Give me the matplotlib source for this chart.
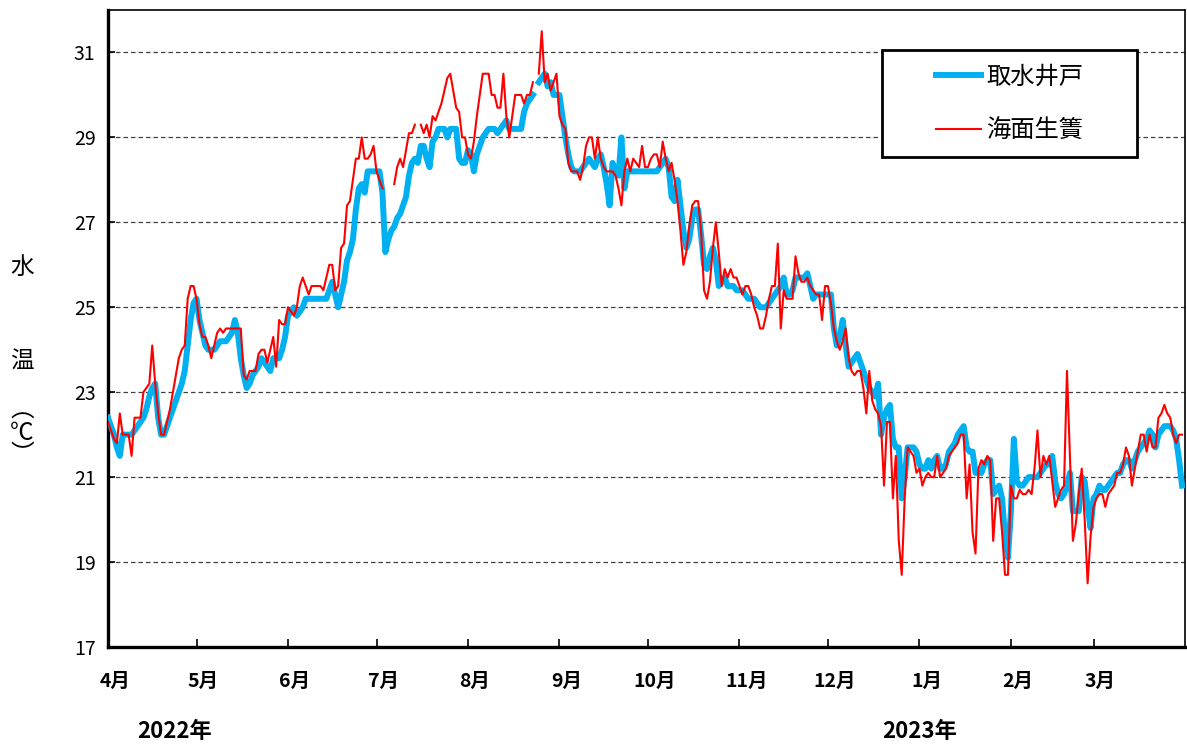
import numpy as np
import pandas as pd
import matplotlib
matplotlib.use("Agg")
import matplotlib.pyplot as plt
import matplotlib.transforms as mtransforms
from matplotlib.patches import Rectangle

plt.rcParams['font.family'] = ['Noto Sans CJK JP', 'DejaVu Sans']

nan = np.nan

# 取水井戸 (日平均水温, 2022年4月 - 2023年3月)
well_apr = [22.4, 22.2, 22.0, 21.7, 21.5, 22.0, 22.0, 22.0, 22.0, 22.1, 22.2, 22.3, 22.4, 22.6, 22.9,
            23.1, 23.2, 22.4, 22.0, 22.0, 22.2, 22.4, 22.6, 22.8, 23.0, 23.2, 23.5, 24.1, 24.7, 25.1]
well_may = [25.2, 24.7, 24.4, 24.1, 24.0, 24.0, 24.0, 24.1, 24.2, 24.2, 24.2, 24.3, 24.4, 24.7, 24.4,
            23.8, 23.4, 23.1, 23.2, 23.4, 23.5, 23.6, 23.8, 23.7, 23.6, 23.5, 23.8, 23.8, 23.8, 24.0, 24.3]
well_jun = [24.8, 24.9, 25.0, 24.8, 24.9, 25.0, 25.2, 25.2, 25.2, 25.2, 25.2, 25.2, 25.2, 25.2, 25.4,
            25.6, 25.3, 25.0, 25.3, 25.6, 26.1, 26.3, 26.6, 27.3, 27.8, 27.9, 27.7, 28.2, 28.2, 28.2]
well_jul = [28.2, 28.2, 27.7, 26.3, 26.6, 26.8, 26.9, 27.1, 27.2, 27.4, 27.6, 28.1, 28.4, 28.5, 28.4,
            28.8, 28.8, 28.5, 28.3, 28.9, 29.0, 29.2, 29.2, 29.2, 29.0, 29.2, 29.2, 29.2, 28.5, 28.4, 28.4]
well_aug = [28.7, 28.6, 28.2, 28.6, 28.8, 29.0, 29.1, 29.2, 29.2, 29.2, 29.1, 29.2, 29.3, 29.4, 29.2,
            29.2, 29.2, 29.2, 29.2, 29.6, 29.8, 29.9, 30.0, nan, 30.3, 30.4, 30.5, 30.2, 30.3, 30.0, 30.0]
well_sep = [30.0, 29.5, 29.0, 28.6, 28.3, 28.2, 28.2, 28.2, 28.3, 28.4, 28.5, 28.4, 28.3, 28.5, 28.6,
            28.3, 27.9, 27.4, 28.4, 28.2, 28.1, 29.0, 27.8, 28.2, 28.2, 28.2, 28.2, 28.2, 28.2, 28.2]
well_oct = [28.2, 28.2, 28.2, 28.2, 28.3, 28.4, 28.5, 28.3, 27.6, 27.5, 28.0, 27.4, 26.8, 26.4, 26.6,
            27.1, 27.3, 27.3, 26.7, 26.0, 25.9, 26.2, 26.4, 26.1, 25.5, 25.6, 25.7, 25.5, 25.5, 25.5, 25.4]
well_nov = [25.4, 25.4, 25.3, 25.2, 25.2, 25.2, 25.1, 25.0, 25.0, 25.0, 25.1, 25.2, 25.3, 25.4, 25.5,
            25.7, 25.3, 25.3, 25.4, 25.7, 25.7, 25.7, 25.7, 25.8, 25.5, 25.2, 25.3, 25.3, 25.3, 25.3]
well_dec = [25.3, 25.3, 24.5, 24.1, 24.3, 24.7, 24.1, 23.6, 23.7, 23.8, 23.9, 23.7, 23.5, 23.3, 23.1,
            23.0, 22.9, 23.2, 22.0, 22.4, 22.6, 22.7, 21.9, 21.7, 21.7, 20.5, 21.0, 21.7, 21.7, 21.7, 21.6]
well_jan = [21.3, 21.2, 21.2, 21.4, 21.2, 21.4, 21.5, 21.2, 21.2, 21.3, 21.6, 21.7, 21.8, 22.0, 22.1,
            22.2, 21.7, 21.6, 21.6, 21.1, 21.1, 21.1, 21.3, 21.4, 21.4, 20.6, 20.7, 20.8, 20.5, 19.6, 19.1]
well_feb = [20.2, 21.9, 20.9, 20.8, 20.8, 20.9, 21.0, 21.0, 21.0, 21.0, 21.1, 21.2, 21.3, 21.3, 21.5,
            20.9, 20.6, 20.5, 20.6, 20.8, 21.1, 20.2, 20.2, 20.2, 21.0, 20.9, 20.3, 19.8]
well_mar = [20.5, 20.6, 20.8, 20.7, 20.7, 20.8, 20.9, 21.0, 21.1, 21.1, 21.3, 21.4, 21.4, 21.2, 21.4,
            21.6, 21.7, 21.8, 21.9, 22.1, 22.0, 21.7, 22.0, 22.1, 22.2, 22.2, 22.2, 22.1, 21.9, 21.4, 20.8]

# 海面生簀
cage_apr = [22.3, 22.1, 21.9, 21.8, 22.5, 22.0, 22.0, 22.0, 21.5, 22.4, 22.4, 22.4, 23.0, 23.1, 23.2,
            24.1, 23.2, 22.5, 22.0, 22.0, 22.3, 22.6, 23.0, 23.4, 23.8, 24.0, 24.1, 25.2, 25.5, 25.5]
cage_may = [25.2, 24.6, 24.3, 24.3, 24.1, 23.8, 24.1, 24.4, 24.5, 24.4, 24.5, 24.5, 24.5, 24.5, 24.5,
            24.5, 23.4, 23.3, 23.5, 23.5, 23.5, 23.9, 24.0, 24.0, 23.7, 24.0, 24.3, 23.6, 24.7, 24.6, 24.6]
cage_jun = [25.0, 24.9, 24.8, 25.0, 25.5, 25.7, 25.5, 25.3, 25.5, 25.5, 25.5, 25.5, 25.4, 25.7, 26.0,
            26.0, 25.4, 25.5, 26.4, 26.5, 27.4, 27.5, 28.0, 28.5, 28.5, 29.0, 28.5, 28.5, 28.6, 28.8]
cage_jul = [28.2, 28.0, 27.8, nan, nan, nan, 27.9, 28.3, 28.5, 28.3, 28.7, 29.1, 29.1, 29.3, nan,
            29.3, 29.1, 29.3, 29.0, 29.5, 29.4, 29.6, 29.8, 30.1, 30.4, 30.5, 30.1, 29.7, 29.6, 29.0, 29.0]
cage_aug = [28.6, 28.5, 28.9, 29.5, 30.0, 30.5, 30.5, 30.5, 30.0, 30.0, 29.7, 29.7, 30.5, 29.5, 29.0,
            29.5, 30.0, 30.0, 30.0, 29.8, 30.0, 30.0, 30.3, nan, 30.5, 31.5, 30.3, 30.5, 30.1, 30.3, 30.5]
cage_sep = [29.5, 29.3, 29.2, 28.4, 28.2, 28.2, 28.2, 28.0, 28.3, 28.8, 29.0, 29.0, 28.5, 29.0, 28.5,
            28.3, 28.2, 28.2, 28.2, 28.1, 27.8, 27.4, 28.2, 28.5, 28.2, 28.5, 28.4, 28.3, 28.8, 28.3]
cage_oct = [28.3, 28.5, 28.6, 28.6, 28.3, 28.9, 28.5, 28.2, 28.4, 28.0, 27.5, 26.8, 26.0, 26.3, 26.9,
            27.4, 27.5, 27.5, 26.8, 25.4, 25.2, 25.6, 26.4, 27.0, 26.3, 25.5, 25.9, 25.7, 25.9, 25.7, 25.7]
cage_nov = [25.5, 25.3, 25.5, 25.5, 25.3, 25.0, 24.8, 24.5, 24.5, 24.8, 25.2, 25.5, 25.5, 26.5, 24.5,
            25.4, 25.2, 25.2, 25.2, 26.2, 25.8, 25.6, 25.6, 25.7, 25.5, 25.4, 25.3, 25.3, 24.7, 25.5]
cage_dec = [25.5, 25.1, 24.5, 24.2, 24.0, 24.2, 24.5, 23.8, 23.5, 23.4, 23.5, 23.5, 23.1, 22.5, 23.5,
            22.8, 22.6, 22.5, 22.2, 20.8, 22.3, 22.3, 20.5, 21.5, 19.5, 18.7, 20.5, 21.7, 21.6, 21.5, 21.1]
cage_jan = [21.2, 20.8, 21.0, 21.1, 21.0, 21.0, 21.5, 21.0, 21.1, 21.2, 21.5, 21.6, 21.7, 21.8, 22.0,
            22.0, 20.5, 21.3, 19.7, 19.2, 21.2, 21.4, 21.3, 21.5, 21.4, 19.5, 20.5, 20.5, 19.7, 18.7, 18.7]
cage_feb = [20.8, 20.5, 20.5, 20.7, 20.6, 20.6, 20.7, 20.6, 21.2, 22.1, 21.0, 21.5, 21.3, 21.5, 20.9,
            20.3, 20.5, 20.7, 20.8, 23.5, 21.5, 19.5, 19.9, 20.6, 21.2, 20.0, 18.5, 19.6]
cage_mar = [20.3, 20.5, 20.6, 20.6, 20.3, 20.6, 20.7, 20.8, 21.1, 21.1, 21.3, 21.7, 21.5, 20.8, 21.2,
            21.6, 22.0, 22.0, 21.6, 22.0, 21.7, 21.7, 22.4, 22.5, 22.7, 22.5, 22.4, 22.0, 21.8, 22.0, 22.0]

month_labels = ["4月", "5月", "6月", "7月", "8月", "9月", "10月", "11月", "12月", "1月", "2月", "3月"]
series_names = ["取水井戸", "海面生簀"]

well = np.array(well_apr + well_may + well_jun + well_jul + well_aug + well_sep +
                well_oct + well_nov + well_dec + well_jan + well_feb + well_mar)
cage = np.array(cage_apr + cage_may + cage_jun + cage_jul + cage_aug + cage_sep +
                cage_oct + cage_nov + cage_dec + cage_jan + cage_feb + cage_mar)
days = pd.date_range("2022-04-01", "2023-03-31", freq="D")
month_starts = pd.date_range("2022-04-01", "2023-03-01", freq="MS")

W, H = 1187, 744
fig = plt.figure(figsize=(W / 100, H / 100), dpi=100)
ax = fig.add_axes([108 / W, 97 / H, 1077 / W, 637 / H])

ax.plot(days, well, color="#00B0F0", lw=4.3, label=series_names[0], zorder=3)
ax.plot(days, cage, color="#FF0000", lw=1.5, label=series_names[1], zorder=4)

ax.set_xlim(pd.Timestamp("2022-04-01"), pd.Timestamp("2023-04-01"))
ax.set_ylim(17, 32)
ax.set_yticks(np.arange(17, 32, 2))
ax.set_xticks(month_starts)
ax.set_xticklabels(month_labels, fontweight="bold")

ax.grid(axis="y", color="#404040", linestyle=(0, (3.6, 2.4)), lw=0.9)
ax.set_axisbelow(True)

for side in ["left", "bottom"]:
    ax.spines[side].set_linewidth(2.4)
for side in ["top", "right"]:
    ax.spines[side].set_linewidth(1.2)

ax.tick_params(axis="x", direction="in", length=6, width=1.2, pad=18, labelsize=14)
ax.tick_params(axis="y", direction="in", length=5, width=1.2, pad=9, labelsize=14)

# ラベルを少し右へ
offset = mtransforms.ScaledTranslation(7 / 100, 0, fig.dpi_scale_trans)
for label in ax.xaxis.get_majorticklabels():
    label.set_transform(label.get_transform() + offset)

# 凡例
ax.add_patch(Rectangle((774 / 1077, 490 / 637), 255 / 1077, 107 / 637, transform=ax.transAxes,
                       facecolor="white", edgecolor="black", lw=2, zorder=6))
leg = ax.legend(loc="center", bbox_to_anchor=(901.5 / 1077, 543.5 / 637), frameon=False,
                fontsize=17.5, handlelength=1.85, handletextpad=0.2, labelspacing=1.14)
leg.set_zorder(7)

# 縦書きの軸ラベル
for ch, y in [("水", 267), ("温", 362), ("︵", 411), ("℃", 433), ("︶", 455)]:
    fig.text(22 / W, 1 - y / H, ch, fontsize=17, ha="center", va="center")

fig.text(175 / W, 1 - 731 / H, "2022年", fontsize=16, fontweight="bold", ha="center", va="center")
fig.text(920 / W, 1 - 731 / H, "2023年", fontsize=16, fontweight="bold", ha="center", va="center")

fig.savefig("out.png", dpi=100)
